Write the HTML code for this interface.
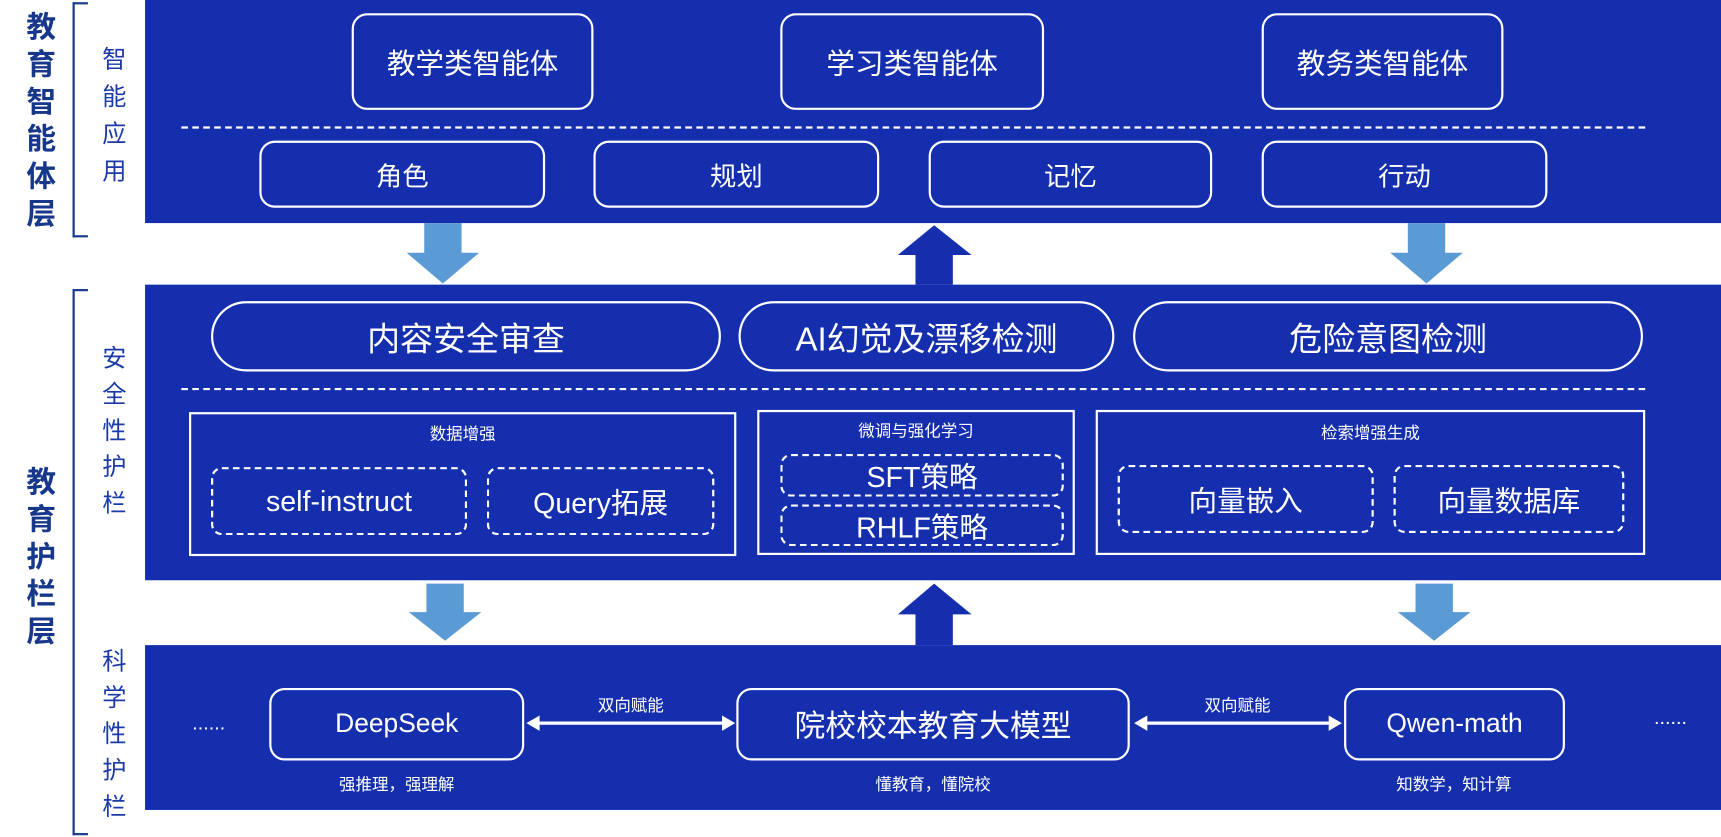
<!DOCTYPE html>
<html><head><meta charset="utf-8"><style>
*{margin:0;padding:0;box-sizing:border-box}
body{width:1721px;height:837px;overflow:hidden;background:#fff;font-family:"Liberation Sans","Noto Sans CJK SC",sans-serif}
#w{position:absolute;left:0;top:0;width:1566px;height:762px;transform:scale(1.099);transform-origin:0 0}
.a{position:absolute}
.band{position:absolute;background:#142eae;left:132px;width:1434px}
.box{position:absolute;border:2px solid #fff;border-radius:14px;color:#fff;display:flex;align-items:center;justify-content:center;white-space:nowrap}
.pill{border-radius:32px}
.sq{position:absolute;border:2px solid #fff;color:#fff}
.dash{position:absolute;border:2px dashed #fff;border-radius:10px;color:#fff;display:flex;align-items:center;justify-content:center;white-space:nowrap}
.hl{position:absolute;border-top:2px dashed #fff;left:165px;width:1332px}
.v{position:absolute;writing-mode:vertical-rl;text-orientation:upright;font-weight:bold}
.br{position:absolute;left:66px;border:2px solid #1b3a8c;border-right:none;width:14px}
.cap{position:absolute;color:#fff;font-size:15px;text-align:center;white-space:nowrap}
</style></head><body><div id="w">
<!-- left labels -->
<div class="v" style="left:16px;top:10px;font-size:27px;color:#17378a;letter-spacing:7px">教育智能体层</div>
<div class="br" style="top:2px;height:214px"></div>
<div class="v" style="left:86px;top:42px;font-size:22px;color:#1b3aa8;font-weight:normal;letter-spacing:12px">智能应用</div>
<div class="v" style="left:16px;top:424px;font-size:27px;color:#17378a;letter-spacing:7px">教育护栏层</div>
<div class="br" style="top:263px;height:497px"></div>
<div class="v" style="left:86px;top:314px;font-size:22px;color:#1b3aa8;font-weight:normal;letter-spacing:11px">安全性护栏</div>
<div class="v" style="left:86px;top:590px;font-size:22px;color:#1b3aa8;font-weight:normal;letter-spacing:11px">科学性护栏</div>

<!-- top band -->
<div class="band" style="top:0;height:203px"></div>
<div class="box" style="left:320px;top:12px;width:220px;height:88px;font-size:26px">教学类智能体</div>
<div class="box" style="left:710px;top:12px;width:240px;height:88px;font-size:26px">学习类智能体</div>
<div class="box" style="left:1148px;top:12px;width:220px;height:88px;font-size:26px">教务类智能体</div>
<div class="hl" style="top:115px"></div>
<div class="box" style="left:236px;top:128px;width:260px;height:61px;font-size:24px">角色</div>
<div class="box" style="left:540px;top:128px;width:260px;height:61px;font-size:24px">规划</div>
<div class="box" style="left:845px;top:128px;width:258px;height:61px;font-size:24px">记忆</div>
<div class="box" style="left:1148px;top:128px;width:260px;height:61px;font-size:24px">行动</div>

<!-- arrows -->
<svg class="a" style="left:0;top:0" width="1566" height="762">
<g fill="#5b9bd5">
<polygon points="386,203 420,203 420,230 436,230 403,258 370,230 386,230"/>
<polygon points="1281,203 1315,203 1315,230 1331,230 1298,258 1265,230 1281,230"/>
<polygon points="388,531 422,531 422,557 438,557 405,583 372,557 388,557"/>
<polygon points="1288,531 1322,531 1322,557 1338,557 1305,583 1272,557 1288,557"/>
</g>
<g fill="#142eae">
<polygon points="833,259 867,259 867,232 884,232 850,205 817,232 833,232"/>
<polygon points="833,587 867,587 867,559 884,559 850,531 817,559 833,559"/>
</g>
</svg>

<!-- middle band -->
<div class="band" style="top:259px;height:269px"></div>
<div class="box pill" style="left:192px;top:274px;width:464px;height:64px;font-size:30px">内容安全审查</div>
<div class="box pill" style="left:672px;top:274px;width:342px;height:64px;font-size:30px">AI幻觉及漂移检测</div>
<div class="box pill" style="left:1031px;top:274px;width:464px;height:64px;font-size:30px">危险意图检测</div>
<div class="hl" style="top:353px"></div>
<div class="sq" style="left:172px;top:375px;width:498px;height:131px"></div>
<div class="cap" style="left:172px;top:384px;width:498px">数据增强</div>
<div class="dash" style="left:192px;top:425px;width:233px;height:62px;font-size:26px">self-instruct</div>
<div class="dash" style="left:443px;top:425px;width:207px;height:62px;font-size:26px">Query拓展</div>
<div class="sq" style="left:689px;top:373px;width:289px;height:132px"></div>
<div class="cap" style="left:689px;top:381px;width:289px">微调与强化学习</div>
<div class="dash" style="left:710px;top:413px;width:258px;height:39px;font-size:26px">SFT策略</div>
<div class="dash" style="left:710px;top:459px;width:258px;height:38px;font-size:26px">RHLF策略</div>
<div class="sq" style="left:997px;top:373px;width:500px;height:132px"></div>
<div class="cap" style="left:997px;top:383px;width:500px">检索增强生成</div>
<div class="dash" style="left:1017px;top:423px;width:233px;height:62px;font-size:26px">向量嵌入</div>
<div class="dash" style="left:1268px;top:423px;width:210px;height:62px;font-size:26px">向量数据库</div>

<!-- bottom band -->
<div class="band" style="top:587px;height:150px"></div>
<div class="cap" style="left:160px;top:648px;width:60px;font-size:18px">......</div>
<div class="cap" style="left:1490px;top:643px;width:60px;font-size:18px">......</div>
<div class="box" style="left:245px;top:626px;width:232px;height:66px;font-size:24px">DeepSeek</div>
<div class="box" style="left:670px;top:626px;width:358px;height:66px;font-size:28px">院校校本教育大模型</div>
<div class="box" style="left:1223px;top:626px;width:201px;height:66px;font-size:24px">Qwen-math</div>
<svg class="a" style="left:0;top:0" width="1566" height="762">
<g stroke="#fff" stroke-width="3" fill="#fff">
<line x1="488" y1="658" x2="660" y2="658"/>
<polygon points="479,658 491,651 491,665" stroke="none"/>
<polygon points="669,658 657,651 657,665" stroke="none"/>
<line x1="1041" y1="658" x2="1212" y2="658"/>
<polygon points="1032,658 1044,651 1044,665" stroke="none"/>
<polygon points="1221,658 1209,651 1209,665" stroke="none"/>
</g></svg>
<div class="cap" style="left:524px;top:631px;width:100px">双向赋能</div>
<div class="cap" style="left:1076px;top:631px;width:100px">双向赋能</div>
<div class="cap" style="left:261px;top:703px;width:200px">强推理，强理解</div>
<div class="cap" style="left:749px;top:703px;width:200px">懂教育，懂院校</div>
<div class="cap" style="left:1223px;top:703px;width:200px">知数学，知计算</div>
</div></body></html>
